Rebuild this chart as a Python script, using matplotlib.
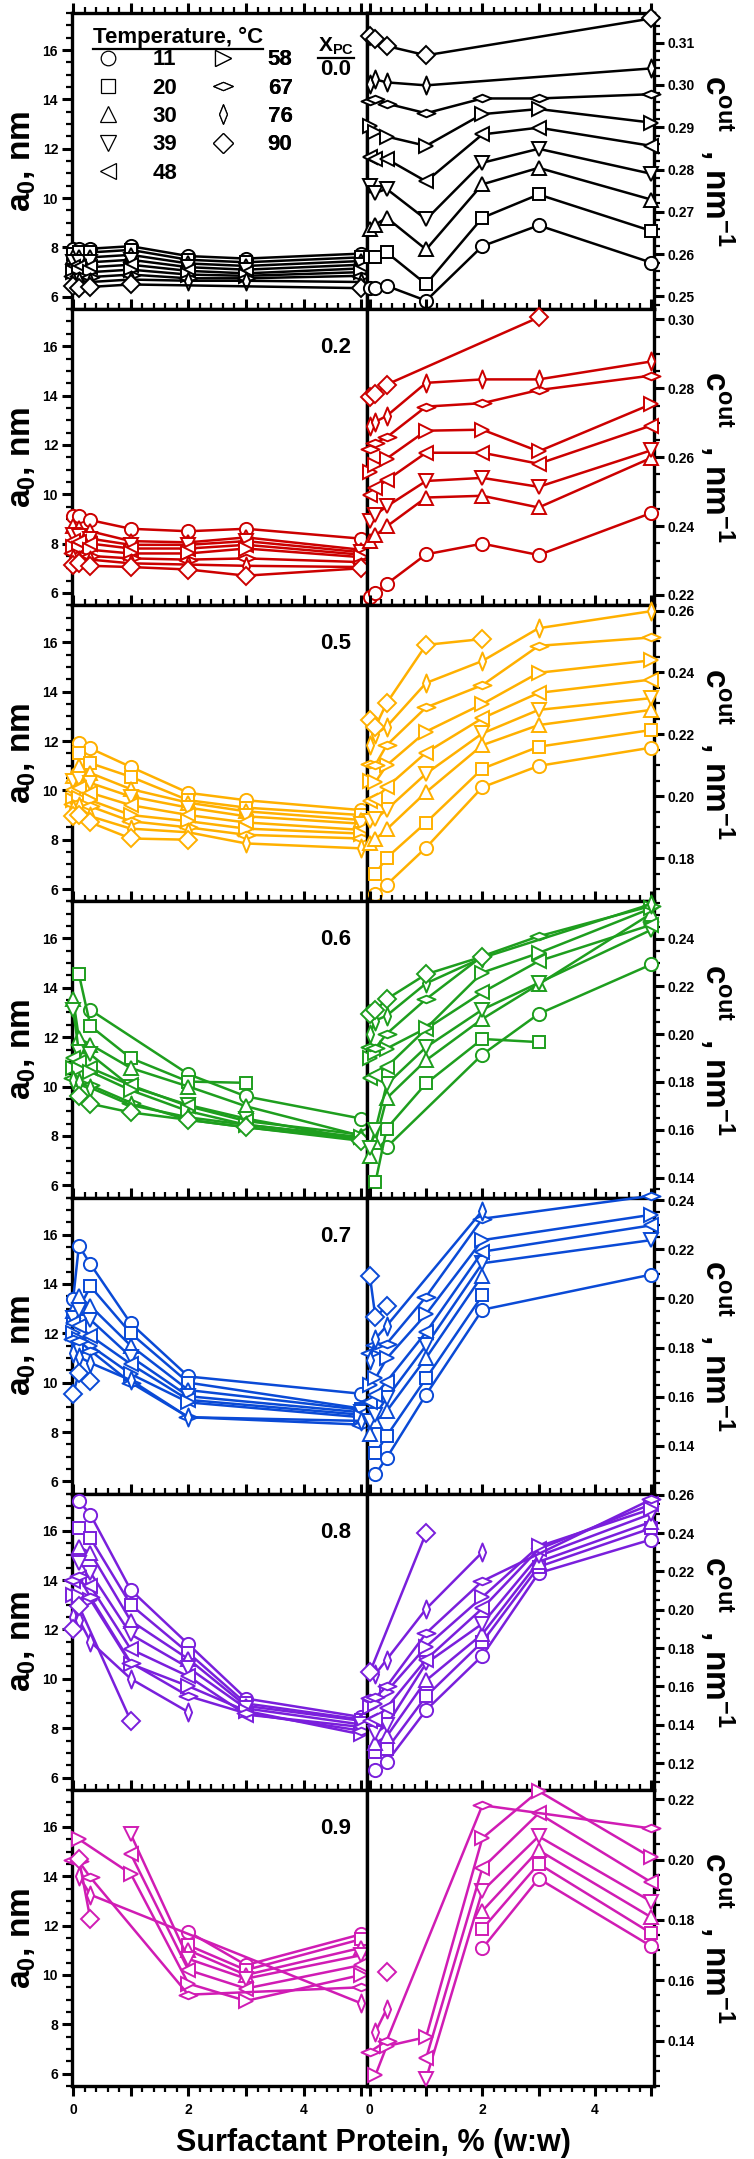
import numpy as np
import matplotlib
matplotlib.use("Agg")
import matplotlib.pyplot as plt
from matplotlib.path import Path
from matplotlib.lines import Line2D
from matplotlib.ticker import MultipleLocator, FixedLocator, FuncFormatter

nan = np.nan

# surfactant protein content, % (w:w)
X = [0, 0.1, 0.3, 1, 2, 3, 5]
TEMPS = [11, 20, 30, 39, 48, 58, 67, 76, 90]
XPC = ["0.0", "0.2", "0.5", "0.6", "0.7", "0.8", "0.9"]
COLORS = ["#000000", "#cc0000", "#ffb000", "#1e9e1e", "#0a4ad6", "#7a1fdc", "#d01cb4"]

# right axis (c_out) ranges and major step per row
C_LIMS = [(0.247, 0.317), (0.217, 0.303), (0.166, 0.2617), (0.1316, 0.2556),
          (0.1206, 0.241), (0.106, 0.2605), (0.125, 0.2231)]
C_MAJOR = [0.01, 0.02, 0.02, 0.02, 0.02, 0.02, 0.02]
C_MINOR = [0.002, 0.005, 0.005, 0.005, 0.005, 0.005, 0.005]

# a0 (nm), one list per temperature (11..90 C), values at X
A0_00 = [[7.95, 7.95, 7.95, 8.05, 7.65, 7.55, 7.75],
         [7.75, 7.8, 7.8, 7.9, 7.5, 7.4, 7.6],
         [7.6, 7.6, 7.6, 7.7, 7.35, 7.25, 7.45],
         [7.4, 7.4, 7.4, 7.5, 7.2, 7.1, 7.3],
         [7.2, 7.2, 7.2, 7.3, 7.05, 6.95, 7.15],
         [7.0, 7.0, 7.0, 7.1, 6.9, 6.85, 7.0],
         [6.85, 6.85, 6.8, 6.9, 6.75, 6.75, 6.85],
         [6.65, 6.65, 6.6, 6.7, 6.65, 6.65, 6.6],
         [6.45, 6.35, 6.4, 6.5, nan, nan, 6.35]]
C_00 = [[0.2520, 0.2519, 0.2525, 0.2490, 0.2619, 0.2668, 0.2580],
        [0.2594, 0.2594, 0.2604, 0.2529, 0.2686, 0.2741, 0.2655],
        [0.2660, 0.2670, 0.2686, 0.2611, 0.2765, 0.2804, 0.2729],
        [0.2760, 0.2745, 0.2754, 0.2682, 0.2816, 0.2849, 0.2790],
        [0.2830, 0.2826, 0.2825, 0.2772, 0.2883, 0.2899, 0.2856],
        [0.2903, 0.2888, 0.2878, 0.2856, 0.2931, 0.2943, 0.2911],
        [0.2962, 0.2966, 0.2956, 0.2933, 0.2968, 0.2968, 0.2978],
        [0.3001, 0.3013, 0.3006, 0.2999, nan, nan, 0.3039],
        [0.3116, 0.3109, 0.3092, 0.3070, nan, nan, 0.3157]]

A0_02 = [[9.1, 9.1, 8.95, 8.6, 8.5, 8.6, 8.2],
         [nan, nan, nan, nan, nan, nan, nan],
         [8.7, 8.65, 8.5, 8.1, 8.05, 8.25, 7.75],
         [8.35, 8.3, 8.2, 7.95, 7.95, 8.1, 7.65],
         [8.1, 8.05, 8.0, 7.8, 7.8, 7.95, 7.55],
         [7.85, 7.8, 7.75, 7.6, 7.6, 7.8, 7.45],
         [7.6, 7.55, 7.5, 7.4, 7.35, 7.4, 7.25],
         [7.4, 7.35, 7.35, 7.2, 7.15, 7.1, 7.05],
         [7.15, 7.2, 7.1, 7.05, 6.95, 6.7, 7.0]]
C_02 = [[0.2193, 0.2205, 0.2232, 0.2318, 0.2349, 0.2316, 0.2438],
        [nan, nan, nan, nan, nan, nan, nan],
        [0.2358, 0.2373, 0.2399, 0.2483, 0.2488, 0.2454, 0.2598],
        [0.2414, 0.2433, 0.2457, 0.2531, 0.2540, 0.2514, 0.2620],
        [0.2490, 0.2511, 0.2533, 0.2613, 0.2613, 0.2581, 0.2692],
        [0.2557, 0.2577, 0.2596, 0.2677, 0.2680, 0.2617, 0.2754],
        [0.2624, 0.2642, 0.2658, 0.2747, 0.2757, 0.2795, 0.2837],
        [0.2692, 0.2703, 0.2720, 0.2816, 0.2826, 0.2826, 0.2878],
        [0.2776, 0.2783, 0.2811, nan, nan, 0.3006, nan]]

A0_05 = [[nan, 11.9, 11.7, 10.95, 9.9, 9.6, 9.2],
         [nan, 11.5, 11.1, 10.55, 9.6, 9.3, 9.0],
         [10.6, 11.0, 10.7, 10.05, 9.5, 9.15, 8.8],
         [10.4, 10.45, 10.3, 9.75, 9.3, 8.95, 8.65],
         [10.0, 10.1, 9.9, 9.4, 9.0, 8.7, 8.4],
         [9.6, 9.7, 9.6, 9.0, 8.75, 8.45, 8.25],
         [9.45, 9.5, 9.35, 8.75, 8.5, 8.2, 8.05],
         [9.25, 9.35, 8.95, 8.45, 8.3, 7.85, 7.65],
         [8.95, 9.0, 8.7, 8.05, 8.0, nan, nan]]
C_05 = [[nan, 0.1685, 0.1714, 0.1834, 0.2029, 0.2098, 0.2157],
        [nan, 0.1750, 0.1801, 0.1915, 0.2089, 0.2160, 0.2214],
        [0.1850, 0.1861, 0.1893, 0.2013, 0.2165, 0.2230, 0.2279],
        [0.1921, 0.1926, 0.1957, 0.2073, 0.2203, 0.2279, 0.2317],
        [0.1986, 0.1991, 0.2029, 0.2141, 0.2252, 0.2334, 0.2377],
        [0.2048, 0.2046, 0.2100, 0.2209, 0.2298, 0.2399, 0.2439],
        [0.2105, 0.2102, 0.2165, 0.2287, 0.2359, 0.2486, 0.2513],
        [0.2165, 0.2200, 0.2225, 0.2366, 0.2437, 0.2543, 0.2598],
        [0.2247, 0.2225, 0.2301, 0.2489, 0.2508, nan, nan]]

A0_06 = [[nan, nan, 13.1, nan, 10.5, 9.6, 8.7],
         [nan, 14.55, 12.45, 11.15, 10.2, 10.15, nan],
         [13.55, 11.95, 11.7, 10.75, 10.0, 9.2, 8.0],
         [13.1, 11.4, 11.3, 10.0, 9.25, 8.7, 7.85],
         [11.15, 11.0, 10.75, 10.05, 9.2, 8.6, 8.05],
         [10.75, 10.7, 10.6, 9.85, 9.0, 8.45, 7.95],
         [10.35, 10.15, 10.05, 9.35, 8.65, 8.35, 7.85],
         [10.25, 10.2, 9.95, 9.25, 8.75, 8.45, 7.9],
         [nan, 9.6, 9.3, 8.95, 8.65, 8.35, 7.8]]
C_06 = [[nan, nan, 0.1527, nan, 0.1915, 0.2085, 0.2292],
        [nan, 0.1380, 0.1605, 0.1794, 0.1980, 0.1967, nan],
        [0.1490, 0.1550, 0.1732, 0.1891, 0.2064, 0.2209, 0.2505],
        [0.1525, 0.1600, 0.1790, 0.1946, 0.2103, 0.2215, 0.2437],
        [0.1815, 0.1830, 0.1863, 0.2022, 0.2175, 0.2306, 0.2458],
        [0.1900, 0.1920, 0.1940, 0.2025, 0.2258, 0.2340, 0.2527],
        [0.1946, 0.1942, 0.2002, 0.2147, 0.2327, 0.2410, 0.2537],
        [0.2000, 0.2057, 0.2078, 0.2213, 0.2320, nan, 0.2545],
        [0.2085, 0.2100, 0.2147, 0.2251, 0.2325, nan, nan]]

A0_07 = [[13.4, 15.55, 14.8, 12.4, 10.25, nan, 9.55],
         [12.6, 13.0, 13.9, 12.0, 10.0, nan, 8.95],
         [12.9, 13.5, 13.1, 11.5, 9.7, nan, 8.9],
         [12.6, 12.95, 12.55, 11.05, 9.45, nan, 8.8],
         [12.4, 12.3, 11.9, 10.75, 9.3, nan, 8.7],
         [12.0, 11.75, 11.5, 10.35, 9.2, nan, 8.6],
         [11.75, 11.7, 11.3, 10.0, 8.6, nan, 8.3],
         [11.2, 11.05, 10.8, 10.1, 8.6, nan, 8.45],
         [9.55, 10.4, 10.05, nan, nan, nan, nan]]
C_07 = [[nan, 0.1285, 0.1352, 0.1609, 0.1954, nan, 0.2097],
        [nan, 0.1370, 0.1441, 0.1675, 0.2012, nan, nan],
        [0.1450, 0.1500, 0.1542, 0.1758, 0.2093, nan, nan],
        [0.1500, 0.1528, 0.1595, 0.1809, 0.2143, nan, 0.2237],
        [0.1580, 0.1609, 0.1662, 0.1863, 0.2190, nan, 0.2297],
        [0.1650, 0.1675, 0.1756, 0.1936, 0.2237, nan, 0.2340],
        [0.1780, 0.1809, 0.1816, 0.2007, 0.2324, nan, 0.2417],
        [0.1750, 0.1836, 0.1889, nan, 0.2357, nan, nan],
        [0.2093, 0.1923, 0.1970, nan, nan, nan, nan]]

A0_08 = [[nan, 17.2, 16.65, 13.6, 11.4, 9.2, 8.45],
         [nan, 16.1, 15.7, 13.0, 11.05, 9.0, 8.35],
         [nan, 15.35, 15.1, 12.35, 10.8, 8.9, 8.3],
         [nan, 14.7, 14.3, 11.8, 10.45, 8.8, 8.15],
         [13.95, 14.1, 13.75, 11.2, 10.1, 8.55, 8.05],
         [13.4, 13.35, 13.2, 10.6, 9.7, 8.7, 7.75],
         [14.0, 14.15, 13.3, 10.65, 9.3, 8.6, 7.9],
         [12.5, 12.4, 11.5, 10.0, 8.65, nan, nan],
         [12.0, 12.95, nan, 8.3, nan, nan, nan]]
C_08 = [[nan, 0.1163, 0.1205, 0.1476, 0.1760, 0.2191, 0.2366],
        [nan, 0.1255, 0.1272, 0.1548, 0.1832, 0.2224, 0.2425],
        [nan, 0.1305, 0.1339, 0.1631, 0.1873, 0.2250, 0.2458],
        [nan, 0.1355, 0.1397, 0.1720, 0.1927, 0.2280, 0.2500],
        [0.1420, 0.1431, 0.1489, 0.1740, 0.2007, 0.2316, 0.2550],
        [0.1490, 0.1506, 0.1573, 0.1807, 0.2066, 0.2330, 0.2525],
        [0.1540, 0.1543, 0.1600, 0.1877, 0.2149, nan, 0.2575],
        [nan, 0.1664, 0.1740, 0.2004, 0.2300, nan, nan],
        [0.1673, nan, nan, 0.2400, nan, nan, nan]]

A0_09 = [[nan, nan, nan, nan, 11.75, 10.4, 11.65],
         [nan, nan, nan, nan, 11.2, 10.2, 11.45],
         [nan, nan, nan, nan, 11.0, 10.0, 11.1],
         [nan, nan, nan, 15.7, 10.65, 9.85, 10.8],
         [nan, nan, nan, 14.9, 10.2, 9.45, 10.4],
         [nan, 15.5, nan, 14.1, 9.65, 8.95, 10.0],
         [14.65, 14.6, 13.95, nan, 9.2, nan, 9.5],
         [nan, 14.0, 13.25, nan, nan, nan, 8.85],
         [nan, 14.7, 12.25, nan, nan, nan, nan]]
C_09 = [[nan, nan, nan, nan, 0.1706, 0.1937, 0.1713],
        [nan, nan, nan, nan, 0.1770, 0.1986, 0.1756],
        [nan, nan, nan, nan, 0.1830, 0.2031, 0.1809],
        [nan, nan, nan, 0.1274, 0.1896, 0.2077, 0.1861],
        [nan, nan, nan, 0.1342, 0.1972, 0.2153, 0.1925],
        [nan, 0.1286, 0.1382, 0.1412, 0.2071, 0.2227, 0.2007],
        [0.1363, nan, 0.1400, nan, 0.2180, nan, 0.2103],
        [nan, 0.1429, 0.1505, nan, nan, nan, nan],
        [nan, nan, 0.1628, nan, nan, nan, nan]]

A0_ROWS = [A0_00, A0_02, A0_05, A0_06, A0_07, A0_08, A0_09]
C_ROWS = [C_00, C_02, C_05, C_06, C_07, C_08, C_09]

plt.rcParams["font.family"] = ["Liberation Sans Narrow", "Liberation Sans", "DejaVu Sans"]
plt.rcParams["font.weight"] = "bold"
plt.rcParams["mathtext.default"] = "regular"

flat_diamond = Path([(-1, 0), (0, 0.42), (1, 0), (0, -0.42), (-1, 0)],
                    [Path.MOVETO, Path.LINETO, Path.LINETO, Path.LINETO, Path.CLOSEPOLY])
thin_diamond = Path([(0, 1), (0.4, 0), (0, -1), (-0.4, 0), (0, 1)],
                    [Path.MOVETO, Path.LINETO, Path.LINETO, Path.LINETO, Path.CLOSEPOLY])
MARKERS = ["o", "s", "^", "v", "<", ">", flat_diamond, thin_diamond, "D"]
MSIZE = [9.5, 9, 10.5, 10.5, 10.5, 10.5, 13, 13, 9]

W, H = 754, 2159
fig = plt.figure(figsize=(W / 100, H / 100), dpi=100)
TOP, BOT = 13, 2086
RH = (BOT - TOP) / 7
XL0, XMID, XR1 = 72, 367, 654


def style_x(ax, last):
    ax.xaxis.set_major_locator(MultipleLocator(1))
    ax.xaxis.set_minor_locator(MultipleLocator(0.2))
    ax.xaxis.set_major_formatter(FuncFormatter(lambda v, p: f"{v:.0f}" if round(v) % 2 == 0 else ""))
    ax.tick_params(axis="x", which="both", direction="out", top=True, bottom=True,
                   labelbottom=last, labeltop=False)
    ax.tick_params(axis="x", which="major", length=7, width=2.2, labelsize=10, pad=5)
    ax.tick_params(axis="x", which="minor", length=4, width=1.6)
    for s in ax.spines.values():
        s.set_linewidth(2.4)


def temp_legend(ax, idx, x_anchor):
    handles = [Line2D([], [], ls="none", marker=MARKERS[k], ms=MSIZE[k] + 1, mfc="white",
                      mec="black", mew=0.9) for k in idx]
    leg = ax.legend(handles, [str(TEMPS[k]) for k in idx], loc="upper left",
                    bbox_to_anchor=(x_anchor, 0.877), frameon=False, fontsize=16,
                    handlelength=1.0, handletextpad=1.5, labelspacing=0.33,
                    borderaxespad=0, borderpad=0)
    ax.add_artist(leg)


for i in range(7):
    y0 = 1 - (TOP + RH * (i + 1)) / H
    h = RH / H
    axl = fig.add_axes([XL0 / W, y0, (XMID - XL0) / W, h])
    axr = fig.add_axes([XMID / W, y0, (XR1 - XMID) / W, h])
    col = COLORS[i]
    for k in range(9):
        for ax, vals in ((axl, A0_ROWS[i][k]), (axr, C_ROWS[i][k])):
            xs = np.array(X, dtype=float)
            ys = np.array(vals, dtype=float)
            ok = ~np.isnan(ys)
            if not ok.any():
                continue
            ax.plot(xs[ok], ys[ok], color=col, lw=1.8, marker=MARKERS[k], ms=MSIZE[k],
                    mfc="white", mec=col, mew=1.4, clip_on=False, zorder=3)

    axl.set_xlim(-0.02, 5.1)
    axr.set_xlim(-0.05, 5.05)
    axl.set_ylim(5.5, 17.5)
    axr.set_ylim(*C_LIMS[i])
    style_x(axl, i == 6)
    style_x(axr, i == 6)

    axl.yaxis.set_major_locator(MultipleLocator(2))
    axl.yaxis.set_minor_locator(MultipleLocator(0.5))
    axl.tick_params(axis="y", which="both", direction="out", left=True, right=False)
    axl.tick_params(axis="y", which="major", length=7, width=2.2, labelsize=10, pad=3)
    axl.tick_params(axis="y", which="minor", length=4, width=1.6)
    axl.set_ylabel(r"a$_{\mathregular{0}}$, nm", fontsize=24, fontweight="bold", labelpad=3)

    lo, hi = C_LIMS[i]
    st = C_MAJOR[i]
    majors = np.arange(np.ceil(lo / st - 1e-6) * st, hi + 1e-9, st)
    axr.yaxis.set_major_locator(FixedLocator(majors))
    axr.yaxis.set_minor_locator(MultipleLocator(C_MINOR[i]))
    axr.yaxis.set_major_formatter(FuncFormatter(lambda v, p: f"{v:.2f}"))
    axr.yaxis.tick_right()
    axr.tick_params(axis="y", which="both", direction="out", left=False, right=True)
    axr.tick_params(axis="y", which="major", length=7, width=2.2, labelsize=10, pad=3)
    axr.tick_params(axis="y", which="minor", length=4, width=1.6)
    axr.yaxis.set_label_position("right")
    axr.set_ylabel(r"c$^{\mathregular{out}}$  , nm$^{\mathregular{-1}}$", fontsize=24,
                   fontweight="bold", rotation=270, labelpad=30)

    if i == 0:
        xpc = axl.text(0.895, 0.887, r"X$_{\mathregular{PC}}$", transform=axl.transAxes,
                       ha="center", va="center", fontsize=15)
        axl.text(0.895, 0.808, XPC[i], transform=axl.transAxes, ha="center", va="center",
                 fontsize=16)
        ttl = axl.text(0.36, 0.918, "Temperature, °C", transform=axl.transAxes,
                       ha="center", va="center", fontsize=16)
        temp_legend(axl, range(0, 5), 0.085)
        temp_legend(axl, range(5, 9), 0.475)
    else:
        axl.text(0.895, 0.87, XPC[i], transform=axl.transAxes, ha="center", va="center",
                 fontsize=16)

fig.text((XL0 + 0.5 * (XR1 - XL0) + 10) / W, 1 - 2143 / H, "Surfactant Protein, % (w:w)",
         ha="center", va="center", fontsize=22)

# underline the legend title and the X_PC label
fig.canvas.draw()
rend = fig.canvas.get_renderer()
for t in (ttl, xpc):
    bb = t.get_window_extent(rend)
    yy = (bb.y0 - 1) / H
    fig.add_artist(Line2D([bb.x0 / W, bb.x1 / W], [yy, yy], color="black", lw=1.6,
                          transform=fig.transFigure))

fig.savefig("out.png", dpi=100)
